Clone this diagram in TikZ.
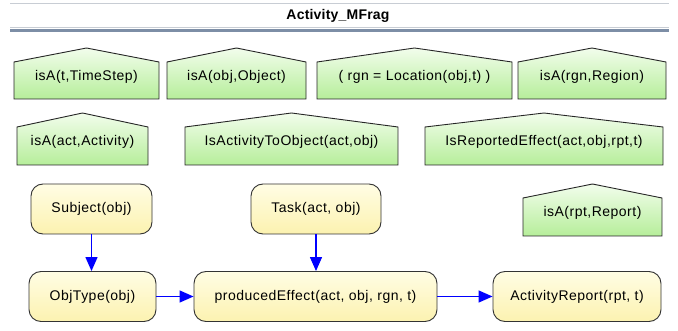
\documentclass[tikz,border=0pt]{standalone}
\usepackage{fontspec}
\setmainfont{Liberation Sans}
\usetikzlibrary{arrows.meta}

\definecolor{ctxtop}{HTML}{F2FDEC}
\definecolor{ctxbot}{HTML}{B6EE9A}
\definecolor{restop}{HTML}{FFFDE4}
\definecolor{resbot}{HTML}{FCF2B0}
\definecolor{barline}{HTML}{7D8EA6}
\definecolor{barlight}{HTML}{C8CDD4}
\definecolor{edgeblue}{HTML}{0000FF}

\tikzset{
  lbl/.style={font=\fontsize{14}{16}\selectfont\addfontfeature{LetterSpace=3.5}, inner sep=0pt},
  ctxshape/.style={top color=ctxtop, bottom color=ctxbot, draw=black!85, line width=0.9pt, line join=miter},
  resbox/.style={rectangle, rounded corners=12pt, top color=restop, bottom color=resbot,
    draw=black!80, line width=0.9pt, inner sep=0pt, minimum height=50pt,
    font=\fontsize{14}{16}\selectfont\addfontfeature{LetterSpace=3.5}},
  link/.style={draw=edgeblue, fill=edgeblue, line width=1.3pt,
    -{Triangle[length=14pt,width=12pt,color=edgeblue]}},
}

% context node: name, left, right, apex, shoulder, bottom, text
\newcommand\ctxnode[7]{%
  \path[ctxshape] (#2,#6) -- (#2,#5) -- ({(#2+#3)/2},#4) -- (#3,#5) -- (#3,#6) -- cycle;
  \node[lbl] (#1) at ({(#2+#3)/2},{(#4+#6)/2+3}) {#7};
}

\begin{document}
\begin{tikzpicture}[x=1pt, y=-1pt]
  \useasboundingbox (0,0) rectangle (678,331);
  \fill[white] (0,0) rectangle (678,331);

  % title bar
  \draw[barlight, line width=1pt] (10,3.5) -- (669,3.5);
  \draw[barlight, line width=1pt] (10,28) -- (669,28);
  \draw[barline, line width=3pt] (10,30.5) -- (669,30.5);
  \node[font=\bfseries\fontsize{14}{16}\selectfont\addfontfeature{LetterSpace=1.5}, inner sep=0pt]
    (title) at (338,15.5) {Activity\_MFrag};

  % context nodes
  \ctxnode{c1}{14}{159}{48}{62}{99}{isA(t,TimeStep)}
  \ctxnode{c2}{167}{306}{48}{62}{99}{isA(obj,Object)}
  \ctxnode{c3}{317}{512}{48}{62}{99}{( rgn = Location(obj,t) )}
  \ctxnode{c4}{518}{666}{48}{62}{99}{isA(rgn,Region)}
  \ctxnode{c5}{17}{148}{113}{127}{165}{isA(act,Activity)}
  \ctxnode{c6}{185}{398}{113}{127}{165}{IsActivityToObject(act,obj)}
  \ctxnode{c7}{425}{663}{113}{127}{165}{IsReportedEffect(act,obj,rpt,t)}
  \ctxnode{c8}{523}{662}{184}{198}{236}{isA(rpt,Report)}

  % resident nodes
  \node[resbox, minimum width=121pt] (subj) at (91.5,209) {Subject(obj)};
  \node[resbox, minimum width=130pt] (task) at (316,209) {Task(act, obj)};
  \node[resbox, minimum width=127pt] (otype) at (92.5,296.5) {ObjType(obj)};
  \node[resbox, minimum width=243pt] (peff) at (315.5,296.5) {producedEffect(act, obj, rgn, t)};
  \node[resbox, minimum width=168pt] (arep) at (577,296.5) {ActivityReport(rpt, t)};

  % dependencies
  \draw[link] (subj.south) -- (subj.south |- otype.north);
  \draw[link] (task.south) -- (task.south |- peff.north);
  \draw[link] (otype) -- (peff);
  \draw[link] (peff) -- (arep);
\end{tikzpicture}
\end{document}
